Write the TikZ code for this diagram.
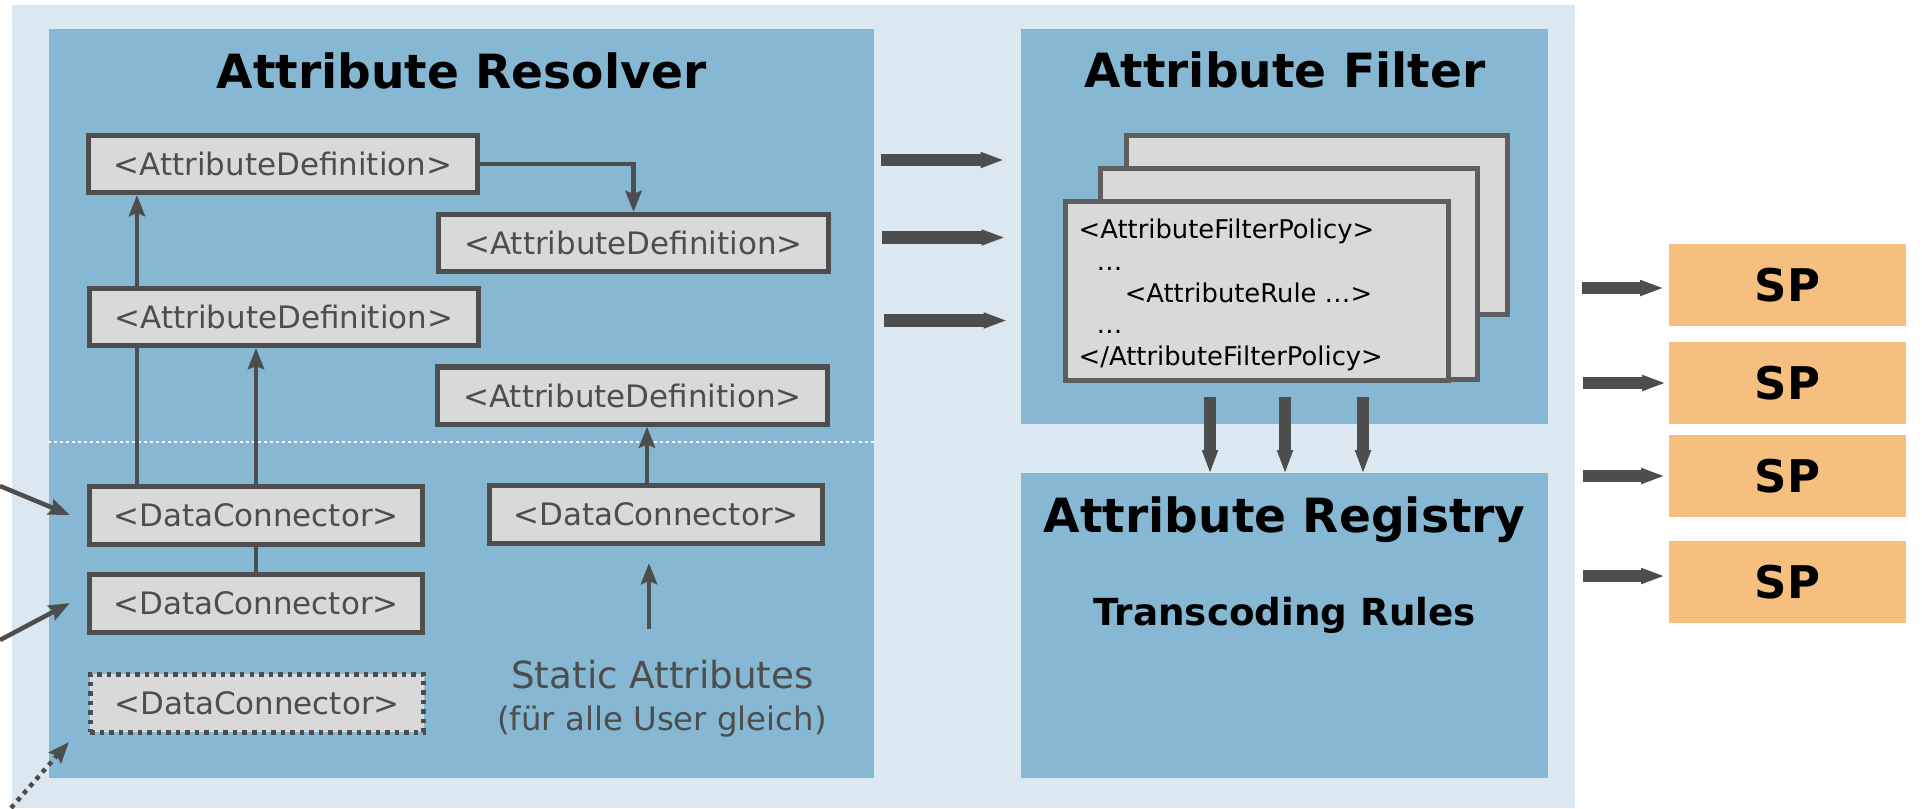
\documentclass[tikz,border=0pt]{standalone}
\usepackage{fontspec}
\setmainfont{DejaVu Sans}
\usepackage{xcolor}
\usepackage{tikz}
\usetikzlibrary{
  arrows.meta,
  positioning,
  calc
}
\definecolor{shIdP}{HTML}{DBE8F1}
\definecolor{shPanel}{HTML}{86B7D3}
\definecolor{shBox}{HTML}{D9D9D9}
\definecolor{shLine}{HTML}{4D4D4D}
\definecolor{shPage}{HTML}{5E5E5E}
\definecolor{shSP}{HTML}{F5BF80}
\tikzset{
  shnode/.style={
    draw=shLine, fill=shBox, line width=0.05cm, inner sep=0pt,
    text=shLine, font=\fontsize{8.8}{10}\selectfont
  },
  defbox/.style={shnode, minimum width=3.89cm, minimum height=0.57cm},
  conbox/.style={shnode, minimum width=3.33cm, minimum height=0.58cm},
  optbox/.style={conbox, dash pattern=on 0.045cm off 0.05cm},
  panel/.style={fill=shPanel, inner sep=0pt},
  paneltitle/.style={anchor=base, font=\fontsize{13.4}{16}\selectfont\bfseries},
  page/.style={draw=shPage, fill=shBox, line width=0.05cm, inner sep=0pt},
  spbox/.style={fill=shSP, minimum width=2.37cm, minimum height=0.82cm, inner sep=0pt,
    font=\fontsize{12.8}{15}\selectfont\bfseries},
  note/.style={anchor=base, inner sep=0pt, text=shLine},
  flow/.style={-{Stealth[length=0.21cm, width=0.16cm, inset=0.03cm]}, line width=0.045cm, shLine},
  link/.style={line width=0.045cm, shLine},
  optflow/.style={flow, dash pattern=on 0.045cm off 0.05cm},
  bigflow/.style={-{Triangle[length=0.22cm, width=0.165cm, line width=0pt]}, line width=0.125cm, shLine},
  sepline/.style={white, line width=0.02cm, dash pattern=on 0.03cm off 0.03cm}
}

\begin{document}
\begin{tikzpicture}[x=0.01cm, y=-0.01cm]
  \useasboundingbox (0,0) rectangle (1922,808);
  \node[fill=shIdP, minimum width=15.63cm, minimum height=8.03cm, inner sep=0pt] (idp) at (793.5,406.5) {};
  \node[panel, minimum width=8.25cm, minimum height=7.49cm] (res) at (461.5,403.5) {};
  \node[panel, minimum width=5.265cm, minimum height=3.95cm] (filt) at (1284.75,226.5) {};
  \node[panel, minimum width=5.265cm, minimum height=3.05cm] (reg) at (1284.75,625.5) {};
  \node[paneltitle] (restitle) at (461.5,88) {Attribute Resolver};
  \node[paneltitle] (filttitle) at (1284.75,87) {Attribute Filter};
  \node[paneltitle] (regtitle) at (1284.75,532) {Attribute Registry};
  \node[anchor=base, font=\fontsize{10.6}{13}\selectfont\bfseries] (trans) at (1284.75,625) {Transcoding Rules};
  \draw[sepline] (res.west |- 0,442) -- (res.east |- 0,442);
  \node[defbox] (ad1) at (283,164) {<AttributeDefinition>};
  \node[defbox] (ad2) at (633.5,243) {<AttributeDefinition>};
  \node[defbox] (ad3) at (284,317) {<AttributeDefinition>};
  \node[defbox] (ad4) at (632.5,395.5) {<AttributeDefinition>};
  \node[conbox] (dc1) at (256,515) {<DataConnector>};
  \node[conbox] (dc2) at (656,514.5) {<DataConnector>};
  \node[conbox, below=0.25cm of dc1] (dc3) {<DataConnector>};
  \node[optbox] (dc4) at (257,703) {<DataConnector>};
  \node[note, font=\fontsize{10.6}{13}\selectfont] (static) at (662.5,688) {Static Attributes};
  \node[note, font=\fontsize{9.2}{11}\selectfont] (staticnote) at (662,730) {(für alle User gleich)};
  \draw[flow] (ad1.east) -| (ad2.north);
  \draw[link] ([xshift=-1.19cm]dc1.north) -- ([xshift=-1.19cm]dc1.north |- ad3.south);
  \draw[flow] ([xshift=-1.19cm]dc1.north |- ad3.north) -- ([xshift=-1.19cm]dc1.north |- ad1.south);
  \draw[flow] (dc1.north) -- (dc1.north |- ad3.south); \draw[link] (dc1.south) -- (dc3.north);
  \draw[flow] ([xshift=-0.09cm]dc2.north) -- ([xshift=-0.09cm]dc2.north |- ad4.south);
  \draw[flow, shorten <=0.3cm, shorten >=0.17cm] ([xshift=-0.135cm]static.north) -- ([xshift=-0.135cm]static.north |- dc2.south);
  \coordinate (src1) at (0,486);
  \coordinate (src2) at (0,640);
  \coordinate (src3) at (11,808);
  \draw[flow] (src1) -- ([xshift=-0.17cm]dc1.west); \draw[flow] (src2) -- ([xshift=-0.17cm]dc3.west);
  \draw[optflow] (src3) -- ([xshift=-0.19cm, yshift=-0.075cm]dc4.south west);
  \node[page, minimum width=3.81cm, minimum height=1.79cm] (pg3) at (1317,225) {};
  \node[page, minimum width=3.77cm, minimum height=2.11cm] (pg2) at (1289,274) {};
  \node[page, minimum width=3.83cm, minimum height=1.79cm] (pg1) at (1257,291) {};
  \node[anchor=north west, align=left, inner sep=0pt, font=\fontsize{7.34}{9.02}\selectfont] (policy) at (1078,218.5)
    {<AttributeFilterPolicy>\\\hspace*{0.18cm}…\\\hspace*{0.46cm}<AttributeRule …>\\\hspace*{0.18cm}…\\</AttributeFilterPolicy>};
  \draw[bigflow, shorten <=0.06cm, shorten >=0.18cm] (res.east |- 0,160) -- (filt.west |- 0,160);
  \draw[bigflow, shorten <=0.07cm, shorten >=0.17cm] (res.east |- 0,237.5) -- (filt.west |- 0,237.5);
  \draw[bigflow, shorten <=0.09cm, shorten >=0.15cm] (res.east |- 0,320.5) -- (filt.west |- 0,320.5);
  \draw[bigflow, shorten <=0.14cm] (pg1.south -| 1210,0) -- (reg.north -| 1210,0); \draw[bigflow, shorten <=0.14cm] (pg1.south -| 1285,0) -- (reg.north -| 1285,0); \draw[bigflow, shorten <=0.14cm] (pg1.south -| 1363,0) -- (reg.north -| 1363,0);
  \node[spbox] (sp1) at (1787.5,285) {SP};
  \node[spbox] (sp2) at (1787.5,383) {SP};
  \node[spbox] (sp3) at (1787.5,476) {SP};
  \node[spbox] (sp4) at (1787.5,582) {SP};
  \draw[bigflow, shorten <=0.06cm, shorten >=0.06cm] ([yshift=-0.03cm]idp.east |- sp1.west) -- ([yshift=-0.03cm]sp1.west); \draw[bigflow, shorten <=0.07cm, shorten >=0.04cm] (idp.east |- sp2.west) -- (sp2.west);
  \draw[bigflow, shorten <=0.07cm, shorten >=0.05cm] (idp.east |- sp3.west) -- (sp3.west); \draw[bigflow, shorten <=0.07cm, shorten >=0.05cm] ([yshift=0.06cm]idp.east |- sp4.west) -- ([yshift=0.06cm]sp4.west);
\end{tikzpicture}
\end{document}
